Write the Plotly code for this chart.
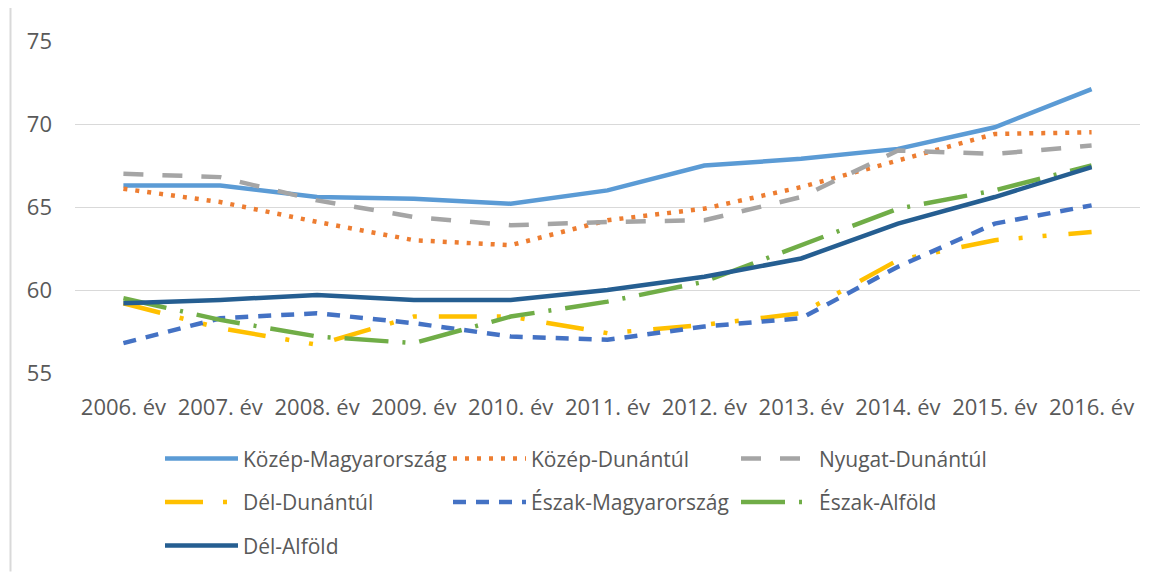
import plotly.graph_objects as go

years = ["2006. év", "2007. év", "2008. év", "2009. év", "2010. év", "2011. év",
         "2012. év", "2013. év", "2014. év", "2015. év", "2016. év"]

kozep_magyarorszag = [66.3, 66.3, 65.6, 65.5, 65.2, 66.0, 67.5, 67.9, 68.5, 69.8, 72.1]
kozep_dunantul = [66.1, 65.3, 64.1, 63.0, 62.7, 64.2, 64.9, 66.2, 67.8, 69.4, 69.5]
nyugat_dunantul = [67.0, 66.8, 65.4, 64.4, 63.9, 64.1, 64.2, 65.6, 68.4, 68.2, 68.7]
del_dunantul = [59.2, 57.7, 56.7, 58.4, 58.4, 57.4, 57.9, 58.6, 61.8, 63.0, 63.5]
eszak_magyarorszag = [56.8, 58.3, 58.6, 58.0, 57.2, 57.0, 57.8, 58.3, 61.4, 64.0, 65.1]
eszak_alfold = [59.5, 58.2, 57.2, 56.8, 58.4, 59.3, 60.5, 62.7, 64.9, 66.0, 67.5]
del_alfold = [59.2, 59.4, 59.7, 59.4, 59.4, 60.0, 60.8, 61.9, 64.0, 65.6, 67.4]

series = [
    ("Közép-Magyarország", kozep_magyarorszag, "#5B9BD5", "solid", "legend"),
    ("Közép-Dunántúl", kozep_dunantul, "#ED7D31", "4px,8px", "legend"),
    ("Nyugat-Dunántúl", nyugat_dunantul, "#A5A5A5", "20px,19px", "legend"),
    ("Dél-Dunántúl", del_dunantul, "#FFC000", "38px,20px,4px,20px,4px,22px", "legend2"),
    ("Észak-Magyarország", eszak_magyarorszag, "#4472C4", "13px,10px", "legend2"),
    ("Észak-Alföld", eszak_alfold, "#70AD47", "44px,14px,3px,14px", "legend2"),
    ("Dél-Alföld", del_alfold, "#255E91", "solid", "legend3"),
]

FONT = "Open Sans"
TXT = "#595959"

fig = go.Figure()
for name, vals, color, dash, leg in series:
    fig.add_trace(go.Scatter(
        x=years, y=vals, name=name, mode="lines",
        line=dict(color=color, width=4.5, dash=dash),
        legend=leg,
    ))

# page body has an 8px margin; target coordinates are measured on the screen
OFF = 8
W, H = 1153 - OFF, 578 - OFF
L, R, T, B = 75 - OFF, 13, 41 - OFF, H - (377 - OFF)
pw, ph = W - L - R, H - T - B

def px_x(x):
    return (x - OFF - L) / pw

def px_y(y):
    return (H - B - (y - OFF)) / ph

legend_common = dict(
    orientation="h", xanchor="left", yanchor="middle",
    font=dict(family=FONT, size=21, color=TXT),
    itemwidth=73, entrywidth=200, entrywidthmode="pixels",
    bgcolor="rgba(0,0,0,0)", traceorder="normal",
)

fig.update_layout(
    width=W, height=H,
    margin=dict(l=L, r=R, t=T, b=B),
    plot_bgcolor="white", paper_bgcolor="white",
    font=dict(family=FONT, size=21, color=TXT),
    xaxis=dict(
        type="category", range=[-0.5, 10.5], showgrid=False, showline=False,
        ticks="", tickfont=dict(family=FONT, size=22, color=TXT),
        ticklabelstandoff=19, zeroline=False,
    ),
    yaxis=dict(
        range=[55, 75], dtick=5, tick0=55, showgrid=True, gridcolor="#D9D9D9",
        gridwidth=1, zeroline=False, showline=False, ticks="",
        tickfont=dict(family=FONT, size=22, color=TXT), ticklabelstandoff=22,
    ),
    legend=dict(x=px_x(160), y=px_y(464), **legend_common),
    legend2=dict(x=px_x(160), y=px_y(508), **legend_common),
    legend3=dict(x=px_x(160), y=px_y(552), **legend_common),
    shapes=[dict(type="line", xref="paper", yref="paper",
                 x0=px_x(10.5), x1=px_x(10.5), y0=px_y(0), y1=px_y(578),
                 line=dict(color="#D9D9D9", width=2))],
)

fig.write_html("out.html")
